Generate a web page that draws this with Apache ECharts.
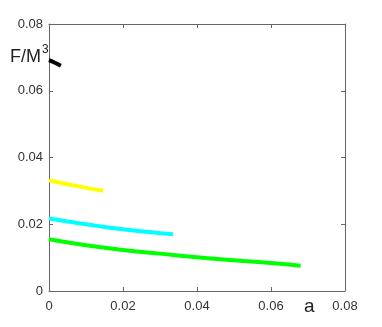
<!DOCTYPE html>
<html>
<head>
<meta charset="utf-8">
<script src="https://cdn.jsdelivr.net/npm/echarts@6/dist/echarts.min.js"></script>
<style>
  html, body { margin: 0; padding: 0; background: #fff; }
  #chart { width: 382px; height: 327px; }
</style>
</head>
<body>
<div id="chart"></div>
<script>
// values, [a, F/M^3]
const blackLine  = [[0, 0.0692], [0.0016, 0.0684], [0.0032, 0.0675]];
const yellowLine = [[0, 0.0332], [0.005, 0.0320], [0.010, 0.0309], [0.0147, 0.0300]];
const cyanLine   = [[0, 0.0217], [0.005, 0.0208], [0.010, 0.0200], [0.015, 0.0192],
                    [0.020, 0.0185], [0.025, 0.0179], [0.030, 0.0173], [0.0335, 0.0170]];
const greenLine  = [[0, 0.0155], [0.010, 0.0137], [0.020, 0.0123], [0.030, 0.0112],
                    [0.040, 0.0101], [0.050, 0.0092], [0.060, 0.0084], [0.068, 0.0076]];
const axisMin = 0, axisMax = 0.08, axisStep = 0.02;

const font = "Liberation Sans";
const axisColor = "#666";
const textColor = "#333";

function tickFmt(v) {
  return v === 0 ? "0" : v.toFixed(2);
}

function line(data, color) {
  return {
    type: "line",
    data: data,
    showSymbol: false,
    smooth: true,
    lineStyle: { color: color, width: 4 },
    itemStyle: { color: color },
    xAxisIndex: 0,
    yAxisIndex: 0
  };
}

// one axis of the box; labels only on the bottom and left ones
function boxAxis(position, withLabels, margin) {
  return {
    type: "value", position: position, min: axisMin, max: axisMax, interval: axisStep,
    axisLine: { show: true, onZero: false, lineStyle: { color: axisColor, width: 1 } },
    axisTick: { show: true, inside: true, length: 4, lineStyle: { color: axisColor } },
    axisLabel: withLabels
      ? { formatter: tickFmt, color: textColor, fontSize: 13, fontFamily: font, margin: margin }
      : { show: false },
    splitLine: { show: false }
  };
}

const chart = echarts.init(document.getElementById("chart"));
chart.setOption({
  animation: false,
  grid: { left: 49, right: 37, top: 24, bottom: 36 },
  xAxis: [boxAxis("bottom", true, 9), boxAxis("top", false)],
  yAxis: [boxAxis("left", true, 6), boxAxis("right", false)],
  graphic: [
    { type: "text", style: { text: "F/M", x: 10, y: 57, font: "18px " + font, fill: "#222", verticalAlign: "middle" } },
    { type: "text", style: { text: "3", x: 42, y: 50, font: "12px " + font, fill: "#222", verticalAlign: "middle" } },
    { type: "text", style: { text: "a", x: 304, y: 307, font: "19px " + font, fill: "#222", verticalAlign: "middle" } }
  ],
  series: [
    line(greenLine, "#00ff00"),
    line(cyanLine, "#00ffff"),
    line(yellowLine, "#ffff00"),
    line(blackLine, "#000000")
  ]
});
</script>
</body>
</html>
